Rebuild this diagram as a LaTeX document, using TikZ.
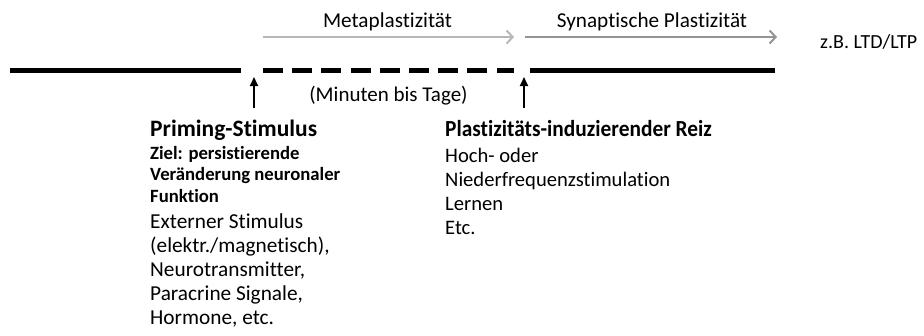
\documentclass[tikz,border=0pt]{standalone}
\usepackage{fontspec}
\setmainfont{Carlito}[Ligatures=NoCommon]
\usetikzlibrary{arrows.meta}
\newcommand{\stacklines}[1]{\vtop{#1}}
\begin{document}
\begin{tikzpicture}[x=1pt,y=-1pt,
  timeline/.style={line width=5pt},
  dashline/.style={line width=5pt, dash pattern=on 20pt off 9.2pt},
  uparrow/.style={line width=2pt,-{Triangle[length=9pt,width=8pt]}},
  greyarrow/.style={line width=2pt,-{Straight Barb[length=6pt,width=13pt,line width=2pt]}},
  lbl/.style={inner sep=0pt, anchor=base, font=\fontsize{21.2}{24}\selectfont},
  txt/.style={inner sep=0pt, anchor=base west}
]
\useasboundingbox (0,0) rectangle (924,335);
\coordinate (l1) at (10,70); \coordinate (l2) at (241,70);
\coordinate (d1) at (263,70); \coordinate (d2) at (514,70);
\coordinate (r1) at (530,70); \coordinate (r2) at (775,70);
\draw[timeline] (l1) -- (l2);
\draw[dashline] (d1) -- (d2);
\draw[timeline] (r1) -- (r2);
\coordinate (a1s) at (254,108); \coordinate (a1e) at (254,77);
\coordinate (a2s) at (524,108); \coordinate (a2e) at (524,77);
\draw[uparrow] (a1s) -- (a1e);
\draw[uparrow] (a2s) -- (a2e);
\coordinate (m1) at (263,37); \coordinate (m2) at (514,37);
\coordinate (s1) at (525,37); \coordinate (s2) at (777,37);
\draw[greyarrow, draw=black!28] (m1) -- (m2);
\draw[greyarrow, draw=black!42] (s1) -- (s2);
\node[lbl] (meta) at (387.5,27) {Metaplastizität};
\node[lbl] (syn) at (652,27) {Synaptische Plastizität};
\node[lbl, anchor=base west, font=\fontsize{20}{24}\selectfont] (ltp) at (820,48) {z.B. LTD/LTP};
\node[lbl, font=\fontsize{21}{24}\selectfont] (min) at (388.5,101) {(Minuten bis Tage)};
\node[txt, font=\fontsize{23.5}{24}\bfseries\selectfont] (prim) at (150,136) {Priming-Stimulus};
\node[txt, font=\fontsize{18.7}{21.6}\bfseries\selectfont] (ziel) at (150,159) {\stacklines{\hbox{Ziel: persistierende}\hbox{Veränderung neuronaler}\hbox{Funktion}}};
\node[txt, font=\fontsize{21.3}{24}\selectfont] (ext) at (150,228) {\stacklines{\hbox{Externer Stimulus}\hbox{(elektr./magnetisch),}\hbox{Neurotransmitter,}\hbox{Paracrine Signale,}\hbox{Hormone, etc.}}};
\node[txt, font=\fontsize{23}{24}\bfseries\selectfont] (plast) at (445,136) {\scalebox{0.93}[1]{Plastizitäts-induzierender Reiz}};
\node[txt, font=\fontsize{20.6}{24}\selectfont] (hoch) at (445,162) {\stacklines{\hbox{Hoch- oder}\hbox{Niederfrequenzstimulation}\hbox{Lernen}\hbox{Etc.}}};
\end{tikzpicture}
\end{document}
